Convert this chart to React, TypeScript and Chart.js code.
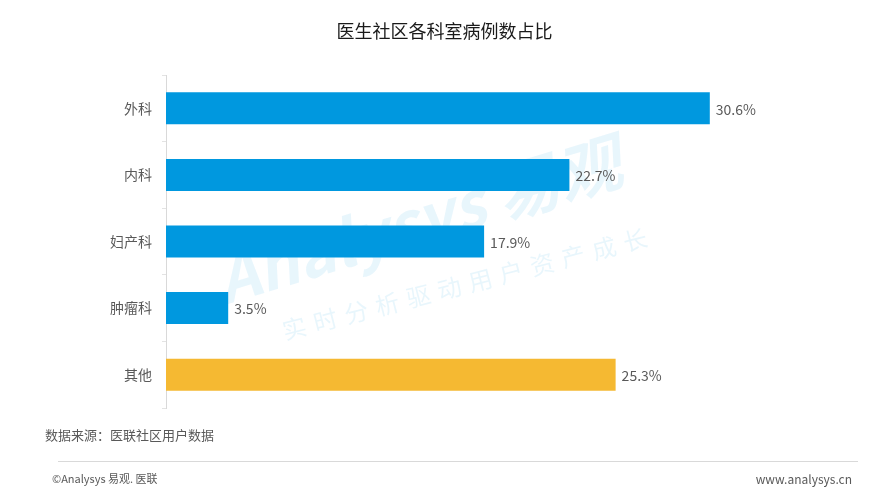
import React, { useEffect, useRef } from "react";
import { Chart, registerables } from "chart.js";

Chart.register(...registerables);

const categories = ["外科", "内科", "妇产科", "肿瘤科", "其他"];
const values = [30.6, 22.7, 17.9, 3.5, 25.3];
const barColors = ["#0098df", "#0098df", "#0098df", "#0098df", "#f5b932"];
const titleText = "医生社区各科室病例数占比";
const sourceText = "数据来源：医联社区用户数据";
const footerLeft = "©Analysys 易观. 医联";
const footerRight = "www.analysys.cn";
const watermarkMain = "Analysys 易观";
const watermarkSub = "实时分析驱动用户资产成长";

const FONT = '"Microsoft YaHei", "Noto Sans CJK SC", "Noto Sans", sans-serif';

const watermarkPlugin = {
  id: "watermark",
  beforeDatasetsDraw(chart: any) {
    const ctx = chart.ctx as CanvasRenderingContext2D;
    ctx.save();
    ctx.fillStyle = "rgba(0,150,220,0.09)";
    // main
    ctx.save();
    ctx.translate(225, 305);
    ctx.rotate((-17 * Math.PI) / 180);
    ctx.font = 'italic bold 64px "Noto Sans CJK SC", sans-serif';
    ctx.textBaseline = "alphabetic";
    ctx.fillText(watermarkMain, 0, 0);
    ctx.restore();
    // sub
    ctx.save();
    ctx.translate(285, 340);
    ctx.rotate((-14.5 * Math.PI) / 180);
    ctx.font = '24px "Noto Sans CJK SC", sans-serif';
    ctx.textBaseline = "alphabetic";
    let x = 0;
    for (const ch of watermarkSub) {
      ctx.fillText(ch, x, 0);
      x += 32;
    }
    ctx.restore();
    ctx.restore();
  },
};

const valueLabelPlugin = {
  id: "valueLabels",
  afterDatasetsDraw(chart: any) {
    const ctx = chart.ctx as CanvasRenderingContext2D;
    const meta = chart.getDatasetMeta(0);
    ctx.save();
    ctx.font = `14px ${FONT}`;
    ctx.fillStyle = "#595959";
    ctx.textAlign = "left";
    ctx.textBaseline = "middle";
    meta.data.forEach((bar: any, i: number) => {
      ctx.fillText(values[i].toFixed(1) + "%", bar.x + 6, bar.y + 1);
    });
    ctx.restore();
  },
};

export default function App() {
  const ref = useRef<HTMLCanvasElement>(null);
  useEffect(() => {
    if (!ref.current) return;
    const chart = new Chart(ref.current, {
      type: "bar",
      data: {
        labels: categories,
        datasets: [
          {
            data: values,
            backgroundColor: barColors,
            barPercentage: 0.48,
            categoryPercentage: 1,
          },
        ],
      },
      plugins: [watermarkPlugin, valueLabelPlugin],
      options: {
        indexAxis: "y",
        animation: false,
        responsive: false,
        maintainAspectRatio: false,
        layout: { padding: { top: 75, bottom: 92, right: 101, left: 0 } },
        plugins: {
          legend: { display: false },
          title: { display: false },
          tooltip: { enabled: false },
        },
        scales: {
          x: { display: false, min: 0, max: 35 },
          y: {
            afterFit: (s: any) => {
              s.width = 166;
            },
            border: { display: true, color: "#d9d9d9", width: 1 },
            grid: {
              drawOnChartArea: false,
              drawTicks: true,
              tickLength: 4,
              color: "#e3e3e3",
              offset: true,
            },
            ticks: {
              padding: 10,
              color: "#595959",
              font: { size: 14, family: FONT },
            },
          },
        },
      },
    });
    return () => chart.destroy();
  }, []);

  const text = (style: React.CSSProperties, s: string) => (
    <div style={{ position: "absolute", whiteSpace: "nowrap", fontFamily: FONT, ...style }}>{s}</div>
  );

  return (
    <div style={{ position: "fixed", left: 0, top: 0, width: 889, height: 500, background: "#fff" }}>
      <canvas ref={ref} width={889} height={500} style={{ position: "absolute", left: 0, top: 0 }} />
      {text({ left: 0, width: 889, top: 18, textAlign: "center", fontSize: 18, color: "#1a1a1a", lineHeight: "24px" }, titleText)}
      {text({ left: 45, top: 425, fontSize: 13, color: "#595959", lineHeight: "20px" }, sourceText)}
      <div style={{ position: "absolute", left: 58, top: 461, width: 800, height: 1, background: "#d9d9d9" }} />
      {text({ left: 52, top: 470, fontSize: 11, color: "#595959", lineHeight: "16px" }, footerLeft)}
      {text({ right: 37, top: 471, fontSize: 12, color: "#595959", lineHeight: "16px" }, footerRight)}
    </div>
  );
}
